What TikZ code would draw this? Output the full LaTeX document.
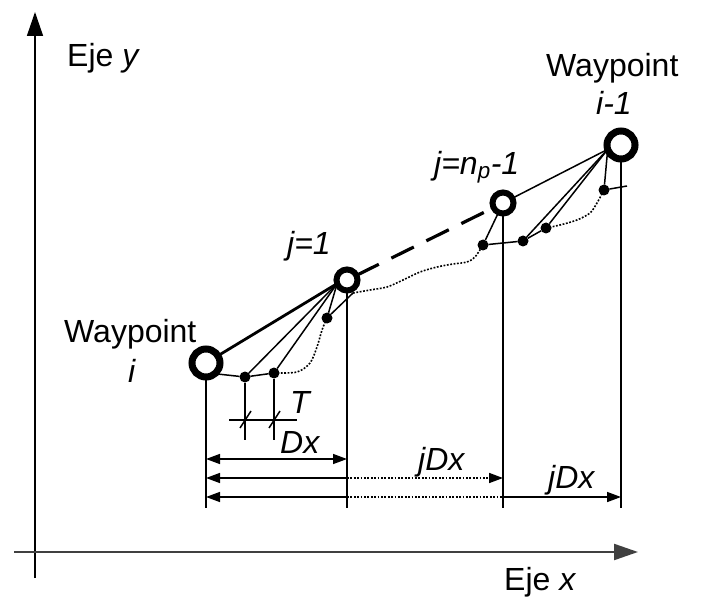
\documentclass[tikz,border=0pt]{standalone}
\usepackage{fontspec}
\setmainfont{Liberation Sans}
\usetikzlibrary{arrows.meta}
\tikzset{dimtip/.tip={Triangle[length=14pt, width=10pt]},
  axtip/.tip={Triangle[length=24pt, width=16pt]}}
\begin{document}
\begin{tikzpicture}[x=1pt,y=-1pt,
  ln/.style={line width=1.5pt, black},
  dotln/.style={line width=1.6pt, dash pattern=on 1.8pt off 1.6pt},
  wpt/.style={circle, draw, line width=7pt, minimum size=28pt, inner sep=0pt, outer sep=0pt},
  jpt/.style={circle, draw, line width=6pt, minimum size=21pt, inner sep=0pt, outer sep=0pt},
  dotpt/.style={circle, fill, minimum size=11pt, inner sep=0pt, outer sep=0pt},
  lbl/.style={anchor=base west, inner sep=0pt, font=\fontsize{32}{36}\selectfont},
  lblc/.style={anchor=base, inner sep=0pt, font=\fontsize{32}{36}\selectfont}]
\useasboundingbox (0,0) rectangle (703,601);

% axes
\coordinate (yb) at (35,578);
\coordinate (yt) at (35,12);
\coordinate (xl) at (14,552);
\coordinate (xr) at (638,552);
\draw[line width=1.6pt, -{axtip}] (yb) -- (yt);
\draw[line width=2.2pt, black!75, -{axtip}] (xl) -- (xr);
\node[lbl] (ey) at (67,67) {Eje \textit{y}};
\node[lbl] (ex) at (504,590) {Eje \textit{x}};

% fixed coordinates
\coordinate (base) at (0,508);
\coordinate (ya) at (0,459);
\coordinate (yb2) at (0,478);
\coordinate (yc) at (0,497);
\coordinate (ty) at (0,420);
\coordinate (tb) at (0,440);
\coordinate (s1) at (353,293);
\coordinate (t7) at (627,186);
\coordinate (tl) at (229,420);
\coordinate (tr) at (297,420);

% waypoints and points
\node[wpt] (wi) at (206,363) {};
\node[jpt] (j1) at (347,280) {};
\node[jpt] (jn) at (503,203) {};
\node[wpt] (wm) at (621,145) {};

\node[dotpt] (d1) at (245,377) {};
\node[dotpt] (d2) at (274,373) {};
\node[dotpt] (d3) at (327,318) {};
\node[dotpt] (d4) at (483,245) {};
\node[dotpt] (d5) at (523,241) {};
\node[dotpt] (d6) at (546,228) {};
\node[dotpt] (d7) at (604,190) {};

\coordinate (c1) at (j1.200);
\coordinate (c2) at (wm.198);

% drop lines
\draw[ln] (wi.south) -- (wi.south |- base);
\draw[ln] (j1.south) -- (j1.south |- base);
\draw[ln] (jn.south) -- (jn.south |- base);
\draw[ln] (wm.south) -- (wm.south |- base);

% segments
\draw[line width=2.8pt] (wi) -- (c1);
\draw[line width=3.2pt, dash pattern=on 25pt off 14pt] (j1) -- (jn);
\draw[ln] (jn) -- (c2);
\draw[ln] (wi.-50) -- (d1) -- (d2);
\draw[ln] (c1) -- (d1);
\draw[ln] (c1) -- (d2);
\draw[ln] (c1) -- (d3);
\draw[ln] (d3) -- (s1);
\draw[ln] (jn) -- (d4);
\draw[ln] (d4) -- (d5) -- (d6);
\draw[ln] (c2) -- (d5);
\draw[ln] (c2) -- (d6);
\draw[ln] (c2) -- (d7);
\draw[ln] (d7) -- (t7);

\draw[dotln] plot[smooth] coordinates {(d2) (297,372) (310,363) (317,347) (322,330) (d3)};
\draw[dotln] plot[smooth] coordinates {(s1) (370,290) (387,287) (403,280) (420,272) (437,267) (453,264) (467,262) (475,257) (d4)};
\draw[dotln] plot[smooth] coordinates {(d6) (560,225) (577,220) (590,213) (597,203) (d7)};

% T marker
\coordinate (t1) at (d1 |- ty);
\coordinate (t2) at (d2 |- ty);
\draw[ln] (d1) -- (d1 |- tb);
\draw[ln] (d2) -- (d2 |- tb);
\draw[ln] (tl) -- (tr);
\draw[ln] ([shift={(-5,8)}]t1) -- ([shift={(6,-9)}]t1);
\draw[ln] ([shift={(-5,8)}]t2) -- ([shift={(6,-9)}]t2);
\node[lbl] (T) at (290,413) {\textit{T}};

% dimension lines
\draw[ln, {dimtip}-{dimtip}] (wi |- ya) -- (j1 |- ya);
\draw[ln, {dimtip}-] (wi |- yb2) -- (j1 |- yb2);
\draw[dotln, -{dimtip}] (j1 |- yb2) -- (jn |- yb2);
\draw[ln, {dimtip}-] (wi |- yc) -- (j1 |- yc);
\draw[dotln] (j1 |- yc) -- (jn |- yc);
\draw[ln, -{dimtip}] (jn |- yc) -- (wm |- yc);
\node[lbl] (dx) at (280,453) {\textit{Dx}};
\node[lbl] (jdx1) at (418,470) {\textit{jDx}};
\node[lbl] (jdx2) at (548,488) {\textit{jDx}};

% labels
\node[lbl] (wil) at (64,342) {Waypoint};
\node[lblc] (wii) at (132,382) {\textit{i}};
\node[lbl] (wml) at (546,77) {Waypoint};
\node[lblc] (wmi) at (614,115) {\textit{i-1}};
\node[lbl] (j1l) at (287,255) {\textit{j=1}};
\node[lbl] (jnl) at (434,175) {\textit{j=n\textsubscript{p}-1}};
\end{tikzpicture}
\end{document}
